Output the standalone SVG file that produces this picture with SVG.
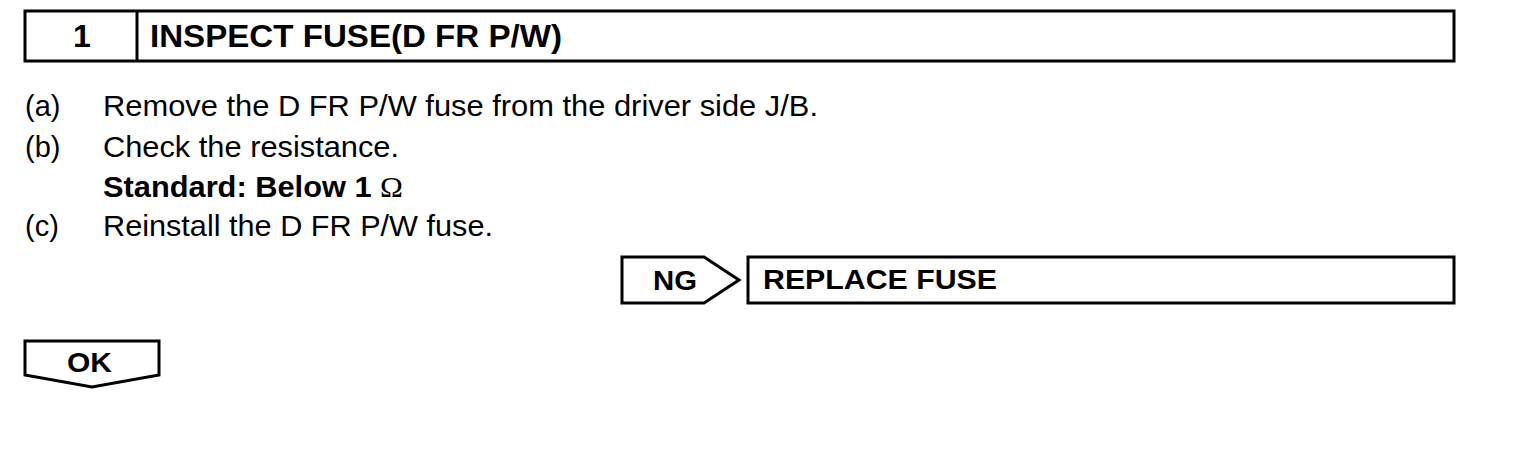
<svg xmlns="http://www.w3.org/2000/svg" width="1520" height="450" viewBox="0 0 1520 450">
<style>
.box{fill:#fff;stroke:#000;stroke-width:3}
.t{font-family:"Liberation Sans",Arial,sans-serif;fill:#000}
.b{font-weight:bold}
.body{font-size:29px}
</style>
<rect width="1520" height="450" fill="#fff"/>
<g id="step-header">
<rect class="box" x="25" y="11" width="1429" height="50"/>
<line x1="137" y1="11" x2="137" y2="61" stroke="#000" stroke-width="3"/>
<text class="t b" x="82" y="47" font-size="32" text-anchor="middle">1</text>
<text class="t b" x="150" y="47" font-size="32" textLength="412" lengthAdjust="spacingAndGlyphs">INSPECT FUSE(D FR P/W)</text>
</g>
<g id="instructions">
<text class="t body" x="25" y="116">(a)</text>
<text class="t body" x="103" y="116" textLength="715" lengthAdjust="spacingAndGlyphs">Remove the D FR P/W fuse from the driver side J/B.</text>
<text class="t body" x="25" y="157">(b)</text>
<text class="t body" x="103" y="157" textLength="296" lengthAdjust="spacingAndGlyphs">Check the resistance.</text>
<text class="t b body" x="103" y="197" textLength="300" lengthAdjust="spacingAndGlyphs">Standard: Below 1 <tspan font-family="'Liberation Serif',serif" font-weight="normal">Ω</tspan></text>
<text class="t body" x="25" y="236">(c)</text>
<text class="t body" x="103" y="236" textLength="390" lengthAdjust="spacingAndGlyphs">Reinstall the D FR P/W fuse.</text>
</g>
<g id="connectors">
<g id="ng">
<polygon class="box" points="622,257 704,257 739,280 704,303 622,303"/>
<text class="t b" x="653" y="290" font-size="27" textLength="44" lengthAdjust="spacingAndGlyphs">NG</text>
</g>
<g id="ok">
<polygon class="box" points="25,341 159,341 159,375 92,387 25,375"/>
<text class="t b" x="67" y="372" font-size="28" textLength="45" lengthAdjust="spacingAndGlyphs">OK</text>
</g>
</g>
<g id="replace-fuse">
<rect class="box" x="748" y="257" width="706" height="46"/>
<text class="t b" x="763" y="289" font-size="27" textLength="234" lengthAdjust="spacingAndGlyphs">REPLACE FUSE</text>
</g>
</svg>
